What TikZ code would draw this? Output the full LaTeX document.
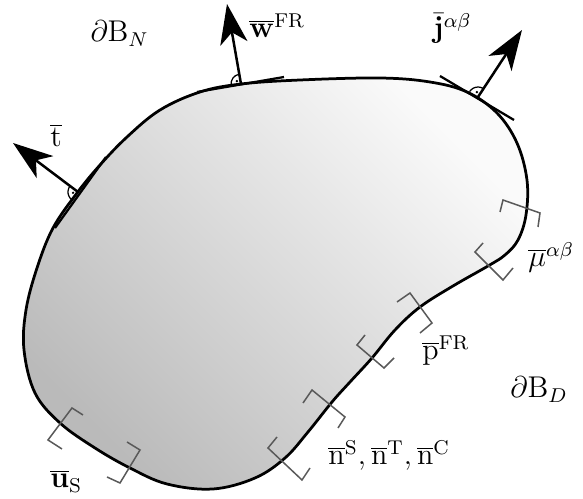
\documentclass[tikz,border=0pt]{standalone}
\usetikzlibrary{arrows.meta}
\begin{document}
\begin{tikzpicture}[x=0.4pt,y=-0.4pt,
  outline/.style={line width=1.1pt},
  force/.style={line width=1pt,-{Stealth[length=16pt,width=11pt,inset=4.5pt]}},
  tang/.style={line width=0.9pt},
  rmark/.style={line width=0.5pt},
  brk/.style={line width=0.6pt,draw=black!65,line join=miter},
  lbl/.style={anchor=base west,inner sep=0pt,font=\fontsize{11.5}{14}\selectfont}]
\useasboundingbox (0,0) rectangle (583,499);
% body
\draw[outline,top color=white!98!black,bottom color=black!27,shading angle=-45]
  plot[smooth cycle,tension=0.6] coordinates {
  (300,80) (380,78) (430,82) (467,92) (497,113) (517,143) (527,180) (526,215)
  (518,240) (505,255) (488,266) (453,286) (420,307) (395,330) (372,358)
  (350,382) (332,402) (308,432) (285,458) (255,478) (213,489) (167,484)
  (130,468) (95,448) (60,423) (35,393) (24,350) (26,310) (37,268) (53,228)
  (77,193) (100,165) (127,137) (160,110) (200,92) (241,84)};
% w arrow
\coordinate (wbase) at (241,84);
\coordinate (wtip) at (227,4);
\coordinate (wl) at (197,92);
\coordinate (wr) at (284,77);
\draw[tang] (wl) -- (wr);
\draw[force] (wbase) -- (wtip);
\draw[rmark] (wbase) ++(170:10) arc[start angle=170,end angle=259,radius=10];
\fill (wbase) ++(215:5) circle[radius=1.3];
% t arrow
\coordinate (tbase) at (78,192);
\coordinate (ttip) at (13,143);
\coordinate (tl) at (55,228);
\coordinate (tr) at (106,157);
\draw[tang] (tl) -- (tr);
\draw[force] (tbase) -- (ttip);
\draw[rmark] (tbase) ++(126:10) arc[start angle=126,end angle=217,radius=10];
\fill (tbase) ++(171:5) circle[radius=1.3];
% j arrow
\coordinate (jbase) at (478,97);
\coordinate (jtip) at (522,30);
\coordinate (jl) at (440,76);
\coordinate (jr) at (514,120);
\draw[tang] (jl) -- (jr);
\draw[force] (jbase) -- (jtip);
\draw[rmark] (jbase) ++(212:10) arc[start angle=212,end angle=303,radius=10];
\fill (jbase) ++(257:5) circle[radius=1.3];
% brackets
\draw[brk] (500,212) -- (503,200) -- (540,213) -- (538,227);
\draw[brk] (483,243) -- (475,252) -- (503,280) -- (513,268);
\draw[brk] (397,302) -- (410,293) -- (432,323) -- (420,333);
\draw[brk] (365,335) -- (357,345) -- (384,368) -- (394,358);
\draw[brk] (303,403) -- (312,390) -- (345,417) -- (338,428);
\draw[brk] (277,437) -- (268,448) -- (302,480) -- (310,468);
\draw[brk] (83,415) -- (72,408) -- (48,440) -- (62,449);
\draw[brk] (127,442) -- (140,450) -- (120,483) -- (107,477);
% labels
\node[lbl] (dBN) at (90,42) {$\partial\mathrm{B}_N$};
\node[lbl] (wlab) at (249,38) {$\overline{\mathbf{w}}^{\mathrm{FR}}$};
\node[lbl] (jlab) at (433,38) {$\bar{\mathbf{j}}^{\alpha\beta}$};
\node[lbl] (tlab) at (50,147) {$\overline{\mathrm{t}}$};
\node[lbl] (mulab) at (528,267) {$\overline{\mu}^{\alpha\beta}$};
\node[lbl] (plab) at (422,360) {$\overline{\mathrm{p}}^{\mathrm{FR}}$};
\node[lbl] (dBD) at (510,398) {$\partial\mathrm{B}_D$};
\node[lbl] (nlab) at (328,465) {$\overline{\mathrm{n}}^{\mathrm{S}},\overline{\mathrm{n}}^{\mathrm{T}},\overline{\mathrm{n}}^{\mathrm{C}}$};
\node[lbl] (ulab) at (50,488) {$\overline{\mathbf{u}}_{\mathrm{S}}$};
\end{tikzpicture}
\end{document}
